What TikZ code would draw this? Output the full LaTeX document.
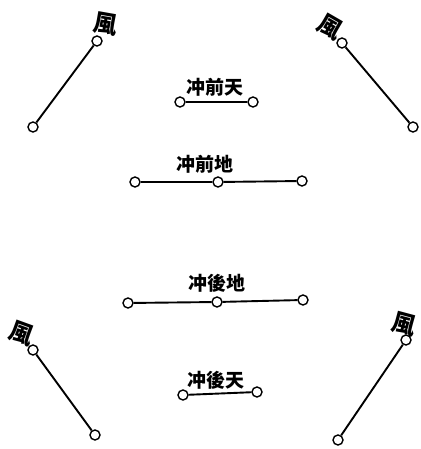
\documentclass[tikz,border=0pt]{standalone}
\usepackage{fontspec}
\newfontfamily\hanzi{Noto Sans CJK TC}
\usetikzlibrary{positioning}

\begin{document}
\begin{tikzpicture}[x = 1pt, y = -1pt, line width = 1.9pt]
\tikzstyle{ring}=[
  draw = black,
  circle,
  line width = 1.4pt,
  inner sep = 0pt,
  minimum size = 10pt,
  fill = white
]
\tikzstyle{word}=[font = \hanzi\bfseries\fontsize{19}{19}\selectfont, inner sep = 0pt]
\tikzstyle{wind}=[font = \hanzi\bfseries\fontsize{24}{24}\selectfont, inner sep = 0pt]

\useasboundingbox (0,0) rectangle (420,449);

% winds at the corners
\node[wind, rotate = -10] (WNW) at (106,24) {風};
\node[wind, rotate = -30] (WNE) at (330,27) {風};
\node[wind, rotate = -20] (WSW) at (22,333) {風};
\node[wind, rotate = -15] (WSE) at (404,324) {風};

\node[ring] (NW1) at (97,41) {};
\node[ring] (NW2) at (33,127) {};
\node[ring] (NE1) at (342,43) {};
\node[ring] (NE2) at (413,127) {};
\node[ring] (SW1) at (33,350) {};
\node[ring] (SW2) at (95,435) {};
\node[ring] (SE1) at (406,340) {};
\node[ring] (SE2) at (338,440) {};

\draw (NW1) -- (NW2);
\draw (NE1) -- (NE2);
\draw (SW1) -- (SW2);
\draw (SE1) -- (SE2);

% the four chong lines
\node[word] (QT) at (215,87) {冲前天};
\node[ring] (A1) at (180,102) {};
\node[ring] (A2) at (253,102) {};
\draw (A1) -- (A2);

\node[word] (QD) at (205,164) {冲前地};
\node[ring] (B1) at (135,182) {};
\node[ring] (B2) at (218,182) {};
\node[ring] (B3) at (302,181) {};
\draw (B1) -- (B2);
\draw (B2) -- (B3);

\node[word] (HD) at (217,283) {冲後地};
\node[ring] (C1) at (128,303) {};
\node[ring] (C2) at (217,302) {};
\node[ring] (C3) at (303,300) {};
\draw (C1) -- (C2);
\draw (C2) -- (C3);

\node[word] (HT) at (216,380) {冲後天};
\node[ring] (D1) at (183,395) {};
\node[ring] (D2) at (257,392) {};
\draw (D1) -- (D2);
\end{tikzpicture}
\end{document}
